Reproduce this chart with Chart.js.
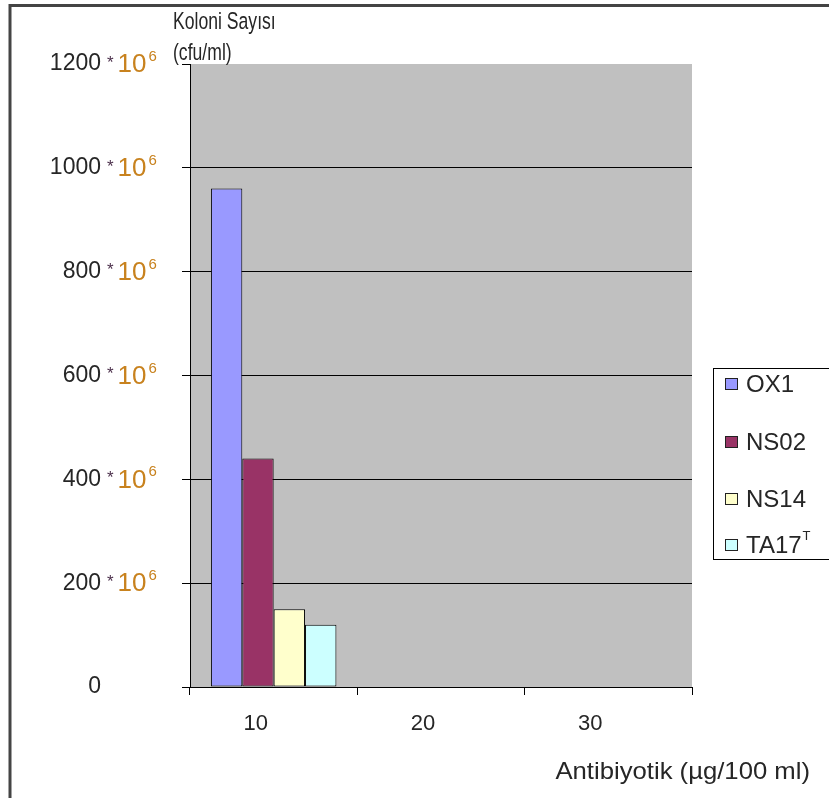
<!DOCTYPE html>
<html>
<head>
<meta charset="utf-8">
<title>Koloni Sayısı</title>
<script src="https://cdn.jsdelivr.net/npm/chart.js@4/dist/chart.umd.min.js"></script>
<style>
  html, body { margin: 0; padding: 0; background: #ffffff; }
  #wrap { width: 829px; height: 798px; position: relative; }
</style>
</head>
<body>
<div id="wrap"><canvas id="chart" width="829" height="798"></canvas></div>
<script>
// Antibiotic concentration groups (µg/100 ml)
const categories = ['10', '20', '30'];

// Colony counts, in units of 10^6 cfu/ml
const seriesNames = ['OX1', 'NS02', 'NS14', 'TA17'];
const ox1Counts  = [960, null, null];
const ns02Counts = [440, null, null];
const ns14Counts = [150, null, null];
const ta17Counts = [120, null, null];

// Value axis
const yTickValues = [0, 200, 400, 600, 800, 1000, 1200];
const yTickExponent = '6';

const yTitleLines = ['Koloni Sayısı', '(cfu/ml)'];
const xTitle = 'Antibiyotik (µg/100 ml)';

const seriesColors = ['#9999ff', '#993366', '#ffffcc', '#ccffff'];
const FONT = "'Liberation Sans', Arial, Helvetica, sans-serif";
const TEXT = '#262626';

const seriesData = [ox1Counts, ns02Counts, ns14Counts, ta17Counts];

// draws text scaled by sx (horizontal) and sy (vertical), returns the drawn width
function stretchText(ctx, text, x, y, sx, sy = 1) {
  const w = ctx.measureText(text).width * sx;
  const align = ctx.textAlign;
  let left = x;
  if (align === 'right') left = x - w;
  else if (align === 'center') left = x - w / 2;
  ctx.save();
  ctx.textAlign = 'left';
  ctx.translate(left, y);
  ctx.scale(sx, sy);
  ctx.fillText(text, 0, 0);
  ctx.restore();
  return w;
}

// grey plot background behind grid and bars
const plotBackground = {
  id: 'plotBackground',
  beforeDraw(chart) {
    const { ctx, chartArea: a } = chart;
    ctx.save();
    ctx.fillStyle = '#c0c0c0';
    ctx.fillRect(a.left, a.top, a.right - a.left, a.bottom - a.top);
    ctx.restore();
  }
};

// tick labels in "N*10^6" form, titles, legend and frame
const annotations = {
  id: 'annotations',
  afterDraw(chart) {
    const { ctx } = chart;
    const y = chart.scales.y;
    ctx.save();

    // frame
    ctx.strokeStyle = '#444';
    ctx.lineWidth = 3;
    ctx.beginPath();
    ctx.moveTo(10, 798);
    ctx.lineTo(10, 5.5);
    ctx.lineTo(829, 5.5);
    ctx.stroke();

    // y tick labels
    ctx.textBaseline = 'middle';
    yTickValues.forEach(v => {
      const py = y.getPixelForValue(v);
      const numRight = 101;
      ctx.font = '23px ' + FONT;
      ctx.fillStyle = TEXT;
      ctx.textAlign = 'right';
      ctx.fillText(String(v), numRight, py);
      if (v === 0) return;
      ctx.textAlign = 'left';
      let x = numRight + 6;
      ctx.font = '17px ' + FONT;
      ctx.fillStyle = '#4b2f4b';
      ctx.fillText('*', x, py - 1);
      x += ctx.measureText('*').width + 4;
      ctx.font = '26px ' + FONT;
      ctx.fillStyle = '#c8821e';
      ctx.fillText('10', x, py + 1);
      x += ctx.measureText('10').width + 2;
      ctx.font = '15px ' + FONT;
      ctx.fillText(yTickExponent, x, py - 7);
    });

    // y axis title
    ctx.textBaseline = 'alphabetic';
    ctx.textAlign = 'left';
    ctx.fillStyle = TEXT;
    ctx.font = '22px ' + FONT;
    stretchText(ctx, yTitleLines[0], 173, 29, 0.8, 1.08);
    stretchText(ctx, yTitleLines[1], 173, 60, 0.8, 1.08);

    // x axis title
    ctx.textAlign = 'right';
    ctx.font = '24px ' + FONT;
    stretchText(ctx, xTitle, 810, 779, 1.07);

    // legend
    const lx = 713, ly = 368;
    ctx.strokeStyle = '#000';
    ctx.lineWidth = 1;
    ctx.strokeRect(lx + 0.5, ly + 0.5, 140, 191);
    const rowY = [384, 442, 499, 545];
    ctx.textBaseline = 'middle';
    ctx.textAlign = 'left';
    seriesNames.forEach((name, i) => {
      const cy = rowY[i];
      ctx.fillStyle = seriesColors[i];
      ctx.fillRect(725, cy - 6, 13, 12);
      ctx.strokeStyle = '#222';
      ctx.strokeRect(725.5, cy - 5.5, 12, 11);
      ctx.fillStyle = TEXT;
      ctx.font = '24px ' + FONT;
      ctx.fillText(name, 746, cy + 1);
      if (name === 'TA17') {
        const w = ctx.measureText(name).width;
        ctx.font = '13px ' + FONT;
        ctx.fillText('T', 746 + w + 1, cy - 9);
      }
    });

    ctx.restore();
  }
};

new Chart(document.getElementById('chart'), {
  type: 'bar',
  data: {
    labels: categories,
    datasets: seriesNames.map((name, i) => ({
      label: name,
      data: seriesData[i],
      backgroundColor: seriesColors[i],
      borderColor: '#000',
      borderWidth: 1,
      borderSkipped: false,
      categoryPercentage: 0.75,
      barPercentage: 1.0
    }))
  },
  options: {
    responsive: false,
    animation: false,
    devicePixelRatio: 1,
    layout: { padding: { left: 0, right: 137, top: 64, bottom: 0 } },
    plugins: {
      legend: { display: false },
      tooltip: { enabled: false },
      title: { display: false }
    },
    scales: {
      x: {
        offset: true,
        grid: {
          display: true,
          offset: true,
          drawOnChartArea: false,
          drawTicks: true,
          tickLength: 8,
          tickColor: '#000'
        },
        border: { display: true, color: '#000', width: 1 },
        ticks: {
          color: TEXT,
          font: { family: FONT, size: 22 },
          padding: 16,
          labelOffset: -18,
          maxRotation: 0
        },
        afterFit(scale) { scale.height = 111; }
      },
      y: {
        min: 0,
        max: 1200,
        ticks: { display: false, stepSize: 200 },
        grid: {
          color: c => (c.tick && c.tick.value === 1200) ? 'rgba(0,0,0,0)' : '#000',
          tickColor: '#000',
          tickLength: 8,
          drawTicks: true
        },
        border: { display: true, color: '#000', width: 1 },
        afterFit(scale) { scale.width = 190; }
      }
    }
  },
  plugins: [plotBackground, annotations]
});
</script>
</body>
</html>
